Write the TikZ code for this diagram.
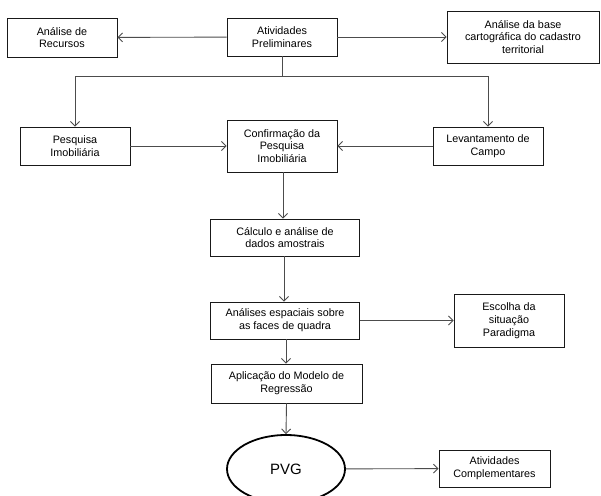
\documentclass[tikz,border=0pt]{standalone}
\usepackage{fontspec}
\setmainfont{Liberation Sans}
\usetikzlibrary{arrows.meta,shapes.geometric}
\tikzset{
  caixa/.style={draw=black!90,line width=0.9pt,align=center,inner sep=1pt,
    font=\fontsize{10.8}{12.8}\selectfont,text=black},
  seta/.style={draw=black!70,line width=0.9pt,-{Straight Barb[length=4.5pt,width=9pt]}},
  linha/.style={draw=black!70,line width=0.9pt}
}
\begin{document}
\begin{tikzpicture}[x=1pt,y=-1pt]
  \useasboundingbox (0,0) rectangle (601,495);
  \clip (0,0) rectangle (601,495);
  \fill[white] (0,0) rectangle (601,495);

  \node[caixa,minimum width=110,minimum height=39] (recursos) at (62,37.5) {Análise de\\Recursos};
  \node[caixa,minimum width=110,minimum height=38] (atividades) at (282,37) {Atividades\\Preliminares};
  \node[caixa,minimum width=152,minimum height=52] (base) at (523,37) {Análise da base\\cartográfica do cadastro\\territorial};

  \node[caixa,minimum width=110,minimum height=38] (pesquisa) at (75,146) {Pesquisa\\Imobiliária};
  \node[caixa,minimum width=110,minimum height=52] (confirmacao) at (282,146) {Confirmação da\\Pesquisa\\Imobiliária};
  \node[caixa,minimum width=110,minimum height=38] (levantamento) at (488,146) {Levantamento de\\Campo};

  \node[caixa,minimum width=149,minimum height=37] (calculo) at (285,237.5) {Cálculo e análise de\\dados amostrais};
  \node[caixa,minimum width=149,minimum height=37] (espaciais) at (285,320.5) {Análises espaciais sobre\\as faces de quadra};
  \node[caixa,minimum width=110,minimum height=53] (escolha) at (509,320.5) {Escolha da\\situação\\Paradigma};
  \node[caixa,minimum width=151,minimum height=39] (aplicacao) at (286.5,383.5) {Aplicação do Modelo de\\Regressão};

  \node[draw=black,line width=1.8pt,ellipse,minimum width=118,minimum height=68,
    font=\fontsize{15}{18}\selectfont] (pvg) at (286,469) {PVG};
  \node[caixa,minimum width=111,minimum height=37] (complementares) at (494.5,468.5) {Atividades\\Complementares};

  \coordinate (divisao) at (282,76);

  \draw[seta] (atividades) -- (recursos);
  \draw[seta] (atividades) -- (base);
  \draw[linha] (atividades.south) -- (divisao);
  \draw[seta] (divisao) -| (pesquisa.north);
  \draw[seta] (divisao) -| (levantamento.north);

  \draw[seta] (pesquisa) -- (confirmacao);
  \draw[seta] (levantamento) -- (confirmacao);
  \draw[seta] ([xshift=1pt]confirmacao.south) -- ([xshift=1pt]confirmacao.south |- calculo.north);
  \draw[seta] ([xshift=-1pt]calculo.south) -- ([xshift=-1pt]calculo.south |- espaciais.north);
  \draw[seta] (espaciais) -- (escolha);
  \draw[seta] ([xshift=1pt]espaciais.south) -- ([xshift=1pt]espaciais.south |- aplicacao.north);
  \draw[seta] (aplicacao.south) -- (pvg.north);
  \draw[seta] (pvg) -- (complementares);
\end{tikzpicture}
\end{document}
